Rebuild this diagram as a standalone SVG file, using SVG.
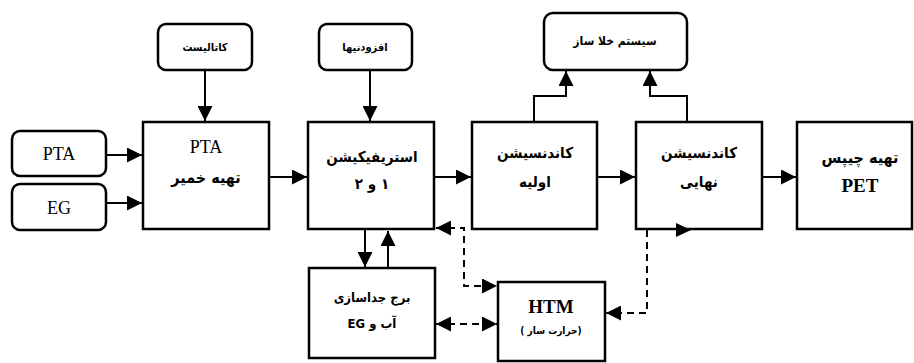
<svg xmlns="http://www.w3.org/2000/svg" width="914" height="363" viewBox="0 0 914 363">
<defs>
<style>
.box{fill:#fff;stroke:#000;stroke-width:2.5}
.rbox{fill:#fff;stroke:#000;stroke-width:2.5}
.ln{fill:none;stroke:#000;stroke-width:2}
.dash{fill:none;stroke:#000;stroke-width:2;stroke-dasharray:7,5}
.fa{font-family:"DejaVu Sans Condensed","DejaVu Sans",sans-serif;font-weight:bold;fill:#000;text-anchor:middle}
.lat{font-family:"Liberation Serif",serif;fill:#000;text-anchor:middle}
</style>
<marker id="ah" viewBox="0 0 15 15" refX="15" refY="7.5" markerWidth="15" markerHeight="15" markerUnits="userSpaceOnUse" orient="auto-start-reverse">
<path d="M0,0 L15,7.5 L0,15 z" fill="#000"/>
</marker>
</defs>
<rect width="914" height="363" fill="#fff"/>

<g id="catalyst"><rect class="rbox" x="158" y="24" width="94" height="46" rx="8"/><text class="fa" x="205" y="51" font-size="11" direction="rtl">کاتالیست</text></g>
<g id="additives"><rect class="rbox" x="319" y="24" width="93" height="46" rx="8"/><text class="fa" x="365" y="51" font-size="11" direction="rtl">افزودنیها</text></g>
<g id="vacuum"><rect class="rbox" x="544" y="13" width="143" height="57" rx="9"/><text class="fa" x="615" y="45" font-size="12" direction="rtl">سیستم خلا ساز</text></g>
<g id="pta"><rect class="rbox" x="12" y="131" width="94" height="45" rx="8"/><text class="lat" x="59" y="160" font-size="18">PTA</text></g>
<g id="eg"><rect class="rbox" x="12" y="184" width="94" height="46" rx="8"/><text class="lat" x="59" y="214" font-size="18">EG</text></g>
<g id="paste"><rect class="box" x="143" y="122" width="126" height="107"/><text class="lat" x="206" y="153" font-size="18">PTA</text><text class="fa" x="206" y="183" font-size="16" direction="rtl">تهیه خمیر</text></g>
<g id="ester"><rect class="box" x="308" y="122" width="126" height="107"/><text class="fa" x="372" y="162" font-size="15" direction="rtl">استریفیکیشن</text><text class="fa" x="372" y="189" font-size="15" direction="rtl">۱ و ۲</text></g>
<g id="precond"><rect class="box" x="472" y="122" width="125" height="107"/><text class="fa" x="535" y="158" font-size="15" direction="rtl">کاندنسیشن</text><text class="fa" x="535" y="187" font-size="15" direction="rtl">اولیه</text></g>
<g id="finalcond"><rect class="box" x="636" y="122" width="126" height="107"/><text class="fa" x="699" y="158" font-size="15" direction="rtl">کاندنسیشن</text><text class="fa" x="699" y="187" font-size="15" direction="rtl">نهایی</text></g>
<g id="pet"><rect class="box" x="797" y="122" width="115" height="107"/><text class="fa" x="860" y="163" font-size="16" direction="rtl">تهیه چیپس</text><text class="lat" x="860" y="192" font-size="19" font-weight="bold">PET</text></g>
<g id="tower"><rect class="box" x="309" y="268" width="126" height="90"/><text class="fa" x="372" y="302" font-size="13" direction="rtl">برج جداسازی</text><text class="fa" x="372" y="328" font-size="13" direction="rtl">آب و EG</text></g>
<g id="htm"><rect class="box" x="498" y="282" width="107" height="79"/><text class="lat" x="551" y="313" font-size="19" font-weight="bold">HTM</text><text class="fa" x="551" y="334" font-size="10" direction="rtl">(حرارت ساز )</text></g>

<g id="connectors">
<path class="ln" d="M205,70 V121" marker-end="url(#ah)"/>
<path class="ln" d="M370,70 V121" marker-end="url(#ah)"/>
<path class="ln" d="M106,155 H142" marker-end="url(#ah)"/>
<path class="ln" d="M106,203 H142" marker-end="url(#ah)"/>
<path class="ln" d="M269,177 H307" marker-end="url(#ah)"/>
<path class="ln" d="M434,177 H471" marker-end="url(#ah)"/>
<path class="ln" d="M597,177 H635" marker-end="url(#ah)"/>
<path class="ln" d="M762,177 H796" marker-end="url(#ah)"/>
<path class="ln" d="M534,122 V96 H566 V71" marker-end="url(#ah)"/>
<path class="ln" d="M687,122 V96 H650 V71" marker-end="url(#ah)"/>
<path class="ln" d="M365,230 V267" marker-end="url(#ah)"/>
<path class="ln" d="M388,268 V231" marker-end="url(#ah)"/>
<path class="dash" d="M436,228 H464 V286 H497" marker-start="url(#ah)" marker-end="url(#ah)"/>
<path class="dash" d="M436,324 H497" marker-start="url(#ah)" marker-end="url(#ah)"/>
<path class="dash" d="M647,230 V313 H606" marker-end="url(#ah)"/>
<path d="M676,223 L691,230 L676,237 z" fill="#000"/>
</g>
</svg>
